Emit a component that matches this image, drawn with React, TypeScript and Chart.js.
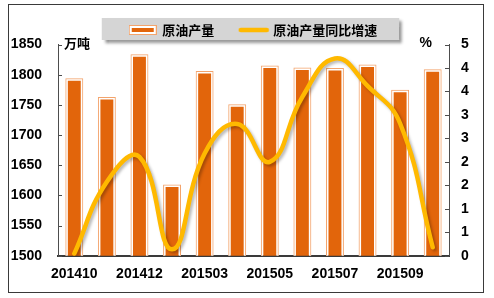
import React, { useEffect, useRef } from 'react';
import { Chart, registerables } from 'chart.js';

Chart.register(...registerables);

// ---- data ----
const categories = ['201410', '201411', '201412', '201502', '201503', '201504', '201505', '201506', '201507', '201508', '201509', '201510'];
const xTickLabels = ['201410', '', '201412', '', '201503', '', '201505', '', '201507', '', '201509', ''];
const production = [1794, 1763, 1834, 1618, 1806, 1751, 1815, 1812, 1811, 1817, 1775, 1809];
const growth = [0.05, 1.75, 2.34, 0.15, 2.42, 3.12, 2.22, 3.76, 4.67, 4.02, 3.13, 0.2];
const leftTickValues = [1500, 1550, 1600, 1650, 1700, 1750, 1800, 1850];
const rightTickLabels = ['0', '1', '1', '2', '2', '3', '3', '4', '4', '5'];
const rightMax = 5;
const seriesNames = ['原油产量', '原油产量同比增速'];
const leftUnit = '万吨';
const rightUnit = '%';

const W = 494;
const H = 298;
const BAR_FILL = '#E2650B';
const BAR_OUTLINE = '#F3A46C';
const LINE_COLOR = '#FFB900';
const AXIS_COLOR = '#4d4d4d';
const TICK_FONT = { family: "'Liberation Sans', Arial, sans-serif", size: 14, weight: 'bold' as const };
const CJK_FONT = "'Noto Sans CJK SC', 'Noto Sans', sans-serif";

function makeBarIcon(): HTMLCanvasElement {
  const c = document.createElement('canvas');
  c.width = 28; c.height = 10;
  const g = c.getContext('2d')!;
  g.fillStyle = BAR_OUTLINE; g.fillRect(0, 0, 28, 10);
  g.fillStyle = '#ffffff'; g.fillRect(1, 1, 26, 8);
  g.fillStyle = BAR_FILL; g.fillRect(3, 3, 22, 4);
  return c;
}
function makeLineIcon(): HTMLCanvasElement {
  const c = document.createElement('canvas');
  c.width = 32; c.height = 6;
  const g = c.getContext('2d')!;
  g.strokeStyle = LINE_COLOR; g.lineWidth = 4.5; g.lineCap = 'round';
  g.beginPath(); g.moveTo(3, 3); g.lineTo(29, 3); g.stroke();
  return c;
}

const decorPlugin = {
  id: 'decor',
  beforeLayout(chart: any) {
    const lg = chart.legend;
    if (lg && !lg._patchedFit) {
      const orig = lg.fit;
      lg.fit = function () { orig.call(this); this.height = 47.5; };
      lg._patchedFit = true;
    }
  },
  beforeDraw(chart: any) {
    const ctx = chart.ctx;
    const hb = chart.legend && chart.legend.legendHitBoxes;
    if (!hb || !hb.length) return;
    const first = hb[0];
    const last = hb[hb.length - 1];
    const x0 = first.left - 28;
    const x1 = last.left + last.width + 22;
    const cy = first.top + first.height / 2;
    ctx.save();
    ctx.shadowColor = 'rgba(0,0,0,0.45)';
    ctx.shadowBlur = 3;
    ctx.shadowOffsetX = 3;
    ctx.shadowOffsetY = 3;
    ctx.fillStyle = '#D5D5D5';
    ctx.fillRect(x0, cy - 12, x1 - x0, 22);
    ctx.restore();
  },
  beforeDatasetDraw(chart: any, args: any) {
    if (args.meta.type === 'line') {
      const ctx = chart.ctx;
      ctx.save();
      ctx.shadowColor = 'rgba(0,0,0,0.28)';
      ctx.shadowBlur = 3;
      ctx.shadowOffsetX = 2;
      ctx.shadowOffsetY = 2;
    }
  },
  afterDatasetDraw(chart: any, args: any) {
    if (args.meta.type === 'line') chart.ctx.restore();
  },
  afterDraw(chart: any) {
    const ctx = chart.ctx;
    const { left, right, top } = chart.chartArea;
    ctx.save();
    ctx.strokeStyle = AXIS_COLOR;
    ctx.lineWidth = 1;
    const ys = chart.scales.y;
    ys.ticks.forEach((t: any) => {
      const p = Math.round(ys.getPixelForValue(t.value)) + 0.5;
      ctx.beginPath(); ctx.moveTo(left, p); ctx.lineTo(left + 4, p); ctx.stroke();
    });
    const y1 = chart.scales.y1;
    y1.ticks.forEach((t: any) => {
      const p = Math.round(y1.getPixelForValue(t.value)) + 0.5;
      ctx.beginPath(); ctx.moveTo(right - 4, p); ctx.lineTo(right, p); ctx.stroke();
    });
    ctx.fillStyle = '#000';
    ctx.textBaseline = 'middle';
    ctx.textAlign = 'left';
    ctx.font = `bold 13px ${CJK_FONT}`;
    ctx.fillText(leftUnit, left + 6, top - 1);
    ctx.textAlign = 'right';
    ctx.font = `bold 14px ${TICK_FONT.family}`;
    ctx.fillText(rightUnit, right - 17, top - 1);
    // outer frame
    ctx.strokeStyle = '#3a3a3a';
    ctx.lineWidth = 1;
    ctx.strokeRect(8.5, 4.5, 475, 288);
    ctx.restore();
  },
};

export default function App() {
  const ref = useRef<HTMLCanvasElement>(null);
  useEffect(() => {
    if (!ref.current) return;
    const barIcon = makeBarIcon();
    const lineIcon = makeLineIcon();
    const chart = new Chart(ref.current, {
      type: 'bar',
      data: {
        labels: categories,
        datasets: [
          {
            type: 'line',
            label: seriesNames[1],
            data: growth,
            yAxisID: 'y1',
            borderColor: LINE_COLOR,
            backgroundColor: LINE_COLOR,
            borderWidth: 4.5,
            tension: 0.45,
            pointRadius: 0,
            borderCapStyle: 'round',
            borderJoinStyle: 'round',
            order: 0,
          } as any,
          {
            type: 'bar',
            label: seriesNames[0],
            data: production,
            yAxisID: 'y',
            backgroundColor: 'rgba(0,0,0,0)',
            borderColor: BAR_OUTLINE,
            borderWidth: 1,
            borderSkipped: false,
            inflateAmount: 0,
            barPercentage: 0.55,
            categoryPercentage: 1,
            grouped: false,
            order: 1,
          } as any,
          {
            type: 'bar',
            label: seriesNames[0],
            data: production,
            yAxisID: 'y',
            backgroundColor: BAR_FILL,
            borderColor: '#ffffff',
            borderWidth: 2.5,
            borderSkipped: false,
            inflateAmount: 0,
            barPercentage: 0.55,
            categoryPercentage: 1,
            grouped: false,
            order: 2,
          } as any,
        ],
      },
      options: {
        responsive: false,
        animation: false,
        events: [],
        layout: { padding: { top: -3, left: 0, right: 0, bottom: 0 } },
        plugins: {
          tooltip: { enabled: false },
          legend: {
            display: true,
            position: 'top',
            fullSize: false,
            labels: {
              usePointStyle: true,
              pointStyleWidth: 26,
              padding: 26.5,
              color: '#000',
              font: { family: CJK_FONT, size: 13, weight: 'bold' },
              generateLabels: () => [
                { text: seriesNames[0], pointStyle: barIcon, datasetIndex: 2, hidden: false, lineWidth: 0, fillStyle: BAR_FILL, strokeStyle: BAR_FILL, fontColor: '#000' },
                { text: seriesNames[1], pointStyle: lineIcon, datasetIndex: 0, hidden: false, lineWidth: 0, fillStyle: LINE_COLOR, strokeStyle: LINE_COLOR, fontColor: '#000' },
              ] as any,
            },
          },
        },
        scales: {
          x: {
            offset: true,
            grid: { display: false, drawTicks: false },
            border: { display: true, color: '#3a3a3a', width: 2 },
            ticks: {
              autoSkip: false,
              maxRotation: 0,
              padding: 10,
              color: '#000',
              font: TICK_FONT,
              callback: (_v: any, i: number) => xTickLabels[i],
            },
            afterFit: (s: any) => { s.height = H - 255.7; },
          },
          y: {
            position: 'left',
            min: leftTickValues[0],
            max: leftTickValues[leftTickValues.length - 1],
            grid: { display: false, drawTicks: false },
            border: { display: true, color: AXIS_COLOR, width: 1 },
            afterBuildTicks: (s: any) => { s.ticks = leftTickValues.map((v) => ({ value: v })); },
            ticks: { padding: 16, color: '#000', font: TICK_FONT, callback: (v: any) => String(v) },
            afterFit: (s: any) => { s.width = 58; },
          },
          y1: {
            position: 'right',
            min: 0,
            max: rightMax,
            grid: { display: false, drawTicks: false },
            border: { display: true, color: AXIS_COLOR, width: 1 },
            afterBuildTicks: (s: any) => {
              s.ticks = rightTickLabels.map((_l, i) => ({ value: (i * rightMax) / (rightTickLabels.length - 1) }));
            },
            ticks: { padding: 12, color: '#000', font: TICK_FONT, callback: (_v: any, i: number) => rightTickLabels[i] },
            afterFit: (s: any) => { s.width = W - 449; },
          },
        },
      },
      plugins: [decorPlugin],
    });
    return () => chart.destroy();
  }, []);
  return (
    <div style={{ position: 'absolute', left: 0, top: 0, width: W, height: H }}>
      <canvas ref={ref} width={W} height={H} style={{ display: 'block' }} />
    </div>
  );
}
